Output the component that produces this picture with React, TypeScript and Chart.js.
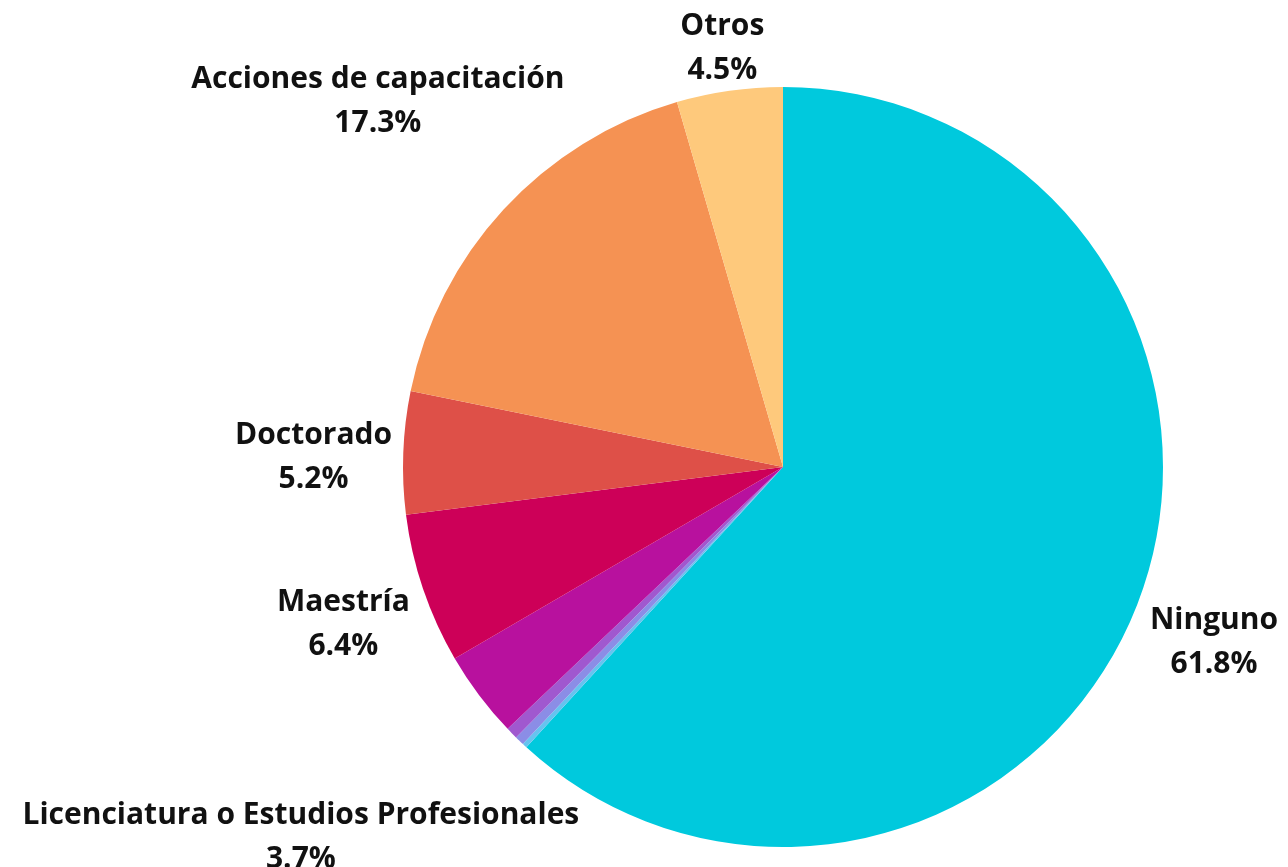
import React, { useEffect, useRef } from "react";
import { Chart, registerables } from "chart.js";

Chart.register(...registerables);

const categories = [
  "Ninguno",
  "Carrera técnica",
  "Especialidad",
  "Posdoctorado",
  "Licenciatura o Estudios Profesionales",
  "Maestría",
  "Doctorado",
  "Acciones de capacitación",
  "Otros",
];
const values = [61.8, 0.2, 0.4, 0.5, 3.7, 6.4, 5.2, 17.3, 4.5];
const colors = [
  "#00c9dd",
  "#66c3ef",
  "#8b8de6",
  "#a058cf",
  "#b8119e",
  "#cd0058",
  "#de5048",
  "#f59253",
  "#fec97c",
];
const labelMin = 3;

const W = 1288;
const H = 867;

const outerLabels = {
  id: "outerLabels",
  afterDraw(chart: any) {
    const ctx = chart.ctx as CanvasRenderingContext2D;
    const meta = chart.getDatasetMeta(0);
    const ds = chart.data.datasets[0];
    const fontSize = 30;
    const lineGap = 44;
    const boxH = 70;
    const gap = 10;
    const margin = 3;
    ctx.save();
    ctx.font = `bold ${fontSize}px "Open Sans"`;
    ctx.fillStyle = "#111111";
    ctx.textAlign = "center";
    ctx.textBaseline = "alphabetic";
    meta.data.forEach((arc: any, i: number) => {
      const v = ds.data[i] as number;
      if (v < labelMin) return;
      const p = arc.getProps(["x", "y", "startAngle", "endAngle", "outerRadius"], true);
      const mid = (p.startAngle + p.endAngle) / 2;
      const c = Math.cos(mid);
      const s = Math.sin(mid);
      const lines = [String(chart.data.labels[i]), v.toFixed(1) + "%"];
      const w = Math.max(...lines.map((l) => ctx.measureText(l).width));
      let d = p.outerRadius + gap + Math.abs(c) * (w / 2) + Math.abs(s) * (boxH / 2);
      // keep the label inside the canvas, sliding it along the ray
      if (s > 0) d = Math.min(d, (H - margin - boxH / 2 - p.y) / s);
      if (s < 0) d = Math.min(d, (margin + boxH / 2 - p.y) / s);
      if (c > 0) d = Math.min(d, (W - margin - w / 2 - p.x) / c);
      if (c < 0) d = Math.min(d, (margin + w / 2 - p.x) / c);
      const cx = p.x + c * d;
      const cy = p.y + s * d + 6;
      const capHalf = fontSize * 0.357;
      ctx.fillText(lines[0], cx, cy - lineGap / 2 + capHalf);
      ctx.fillText(lines[1], cx, cy + lineGap / 2 + capHalf);
    });
    ctx.restore();
  },
};

export default function App() {
  const ref = useRef<HTMLCanvasElement | null>(null);
  useEffect(() => {
    if (!ref.current) return;
    const chart = new Chart(ref.current, {
      type: "pie",
      data: {
        labels: categories,
        datasets: [
          {
            data: values,
            backgroundColor: colors,
            borderWidth: 0,
          },
        ],
      },
      options: {
        responsive: false,
        animation: false,
        layout: { padding: { left: 403, right: 125, top: 87, bottom: 20 } },
        plugins: {
          legend: { display: false },
          tooltip: { enabled: false },
        },
      },
      plugins: [outerLabels],
    });
    return () => chart.destroy();
  }, []);
  return (
    <div style={{ position: "fixed", left: 0, top: 0, width: W, height: H, background: "#fff" }}>
      <canvas ref={ref} width={W} height={H} style={{ display: "block" }} />
    </div>
  );
}
